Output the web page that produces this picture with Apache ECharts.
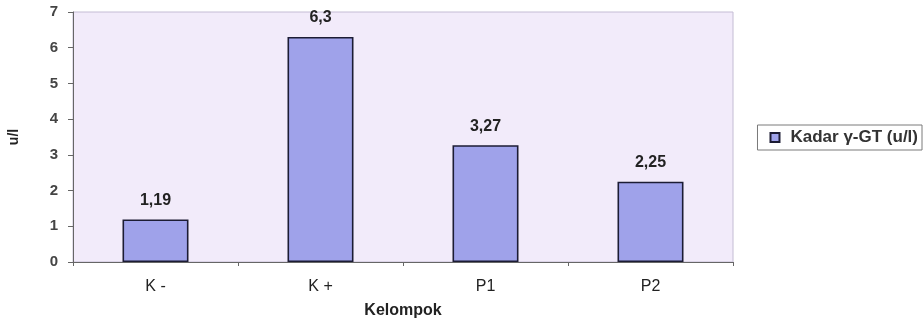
<!DOCTYPE html>
<html>
<head>
<meta charset="utf-8">
<script src="https://cdn.jsdelivr.net/npm/echarts@6/dist/echarts.min.js"></script>
<style>
  html, body { margin: 0; padding: 0; background: #ffffff; }
  #chart { width: 924px; height: 322px; }
</style>
</head>
<body>
<div id="chart"></div>
<script>
// Gamma-GT level per group
const categories = ['K -', 'K +', 'P1', 'P2'];
const values = [1.19, 6.3, 3.27, 2.25];
const yTicks = [0, 1, 2, 3, 4, 5, 6, 7];
const seriesName = 'Kadar \u03b3-GT (u/l)';

const chart = echarts.init(document.getElementById('chart'));
const font = 'Arial, "Liberation Sans", sans-serif';

chart.setOption({
  animation: false,
  backgroundColor: '#ffffff',
  grid: {
    left: 73, right: 191, top: 12, bottom: 60,
    containLabel: false,
    outerBoundsMode: 'none',
    show: true,
    backgroundColor: '#f2ebfa',
    borderColor: '#c4bcd4',
    borderWidth: 1
  },
  legend: {
    right: 2, top: 125,
    orient: 'vertical',
    itemWidth: 9, itemHeight: 9,
    itemGap: 0,
    padding: [4, 4, 4, 12],
    borderColor: '#7a7a7a',
    borderWidth: 1,
    backgroundColor: '#ffffff',
    textStyle: { fontFamily: font, fontSize: 17, fontWeight: 'bold', color: '#333333', padding: [0, 0, 0, 6] },
    data: [{ name: seriesName, icon: 'rect' }]
  },
  xAxis: {
    type: 'category',
    data: categories,
    name: 'Kelompok',
    nameLocation: 'middle',
    nameGap: 41,
    nameTextStyle: { fontFamily: font, fontSize: 16, fontWeight: 'bold', color: '#222222' },
    axisLine: { lineStyle: { color: '#666666', width: 1 } },
    axisTick: { show: true, alignWithLabel: false, length: 4, lineStyle: { color: '#666666' } },
    axisLabel: { fontFamily: font, fontSize: 16, color: '#222222', margin: 17 }
  },
  yAxis: {
    type: 'value',
    min: 0, max: 7, interval: 1,
    name: 'u/l',
    nameLocation: 'middle',
    nameGap: 52,
    nameRotate: 90,
    nameTextStyle: { fontFamily: font, fontSize: 14, fontWeight: 'bold', color: '#222222' },
    splitLine: { show: false },
    axisLine: { show: true, lineStyle: { color: '#666666', width: 1 } },
    axisTick: { show: true, length: 5, lineStyle: { color: '#666666' } },
    axisLabel: {
      fontFamily: font, fontSize: 15, fontWeight: 'bold', color: '#444444', margin: 15,
      formatter: v => (yTicks.includes(v) ? String(v) : '')
    }
  },
  series: [{
    name: seriesName,
    type: 'bar',
    data: values,
    barWidth: '40%',
    itemStyle: { color: '#9fa2ea', borderColor: '#1c1c34', borderWidth: 1.6 },
    label: {
      show: true,
      position: 'top',
      distance: 11,
      fontFamily: font,
      fontSize: 16,
      fontWeight: 'bold',
      color: '#222222',
      formatter: p => String(p.value).replace('.', ',')
    }
  }]
});
</script>
</body>
</html>
